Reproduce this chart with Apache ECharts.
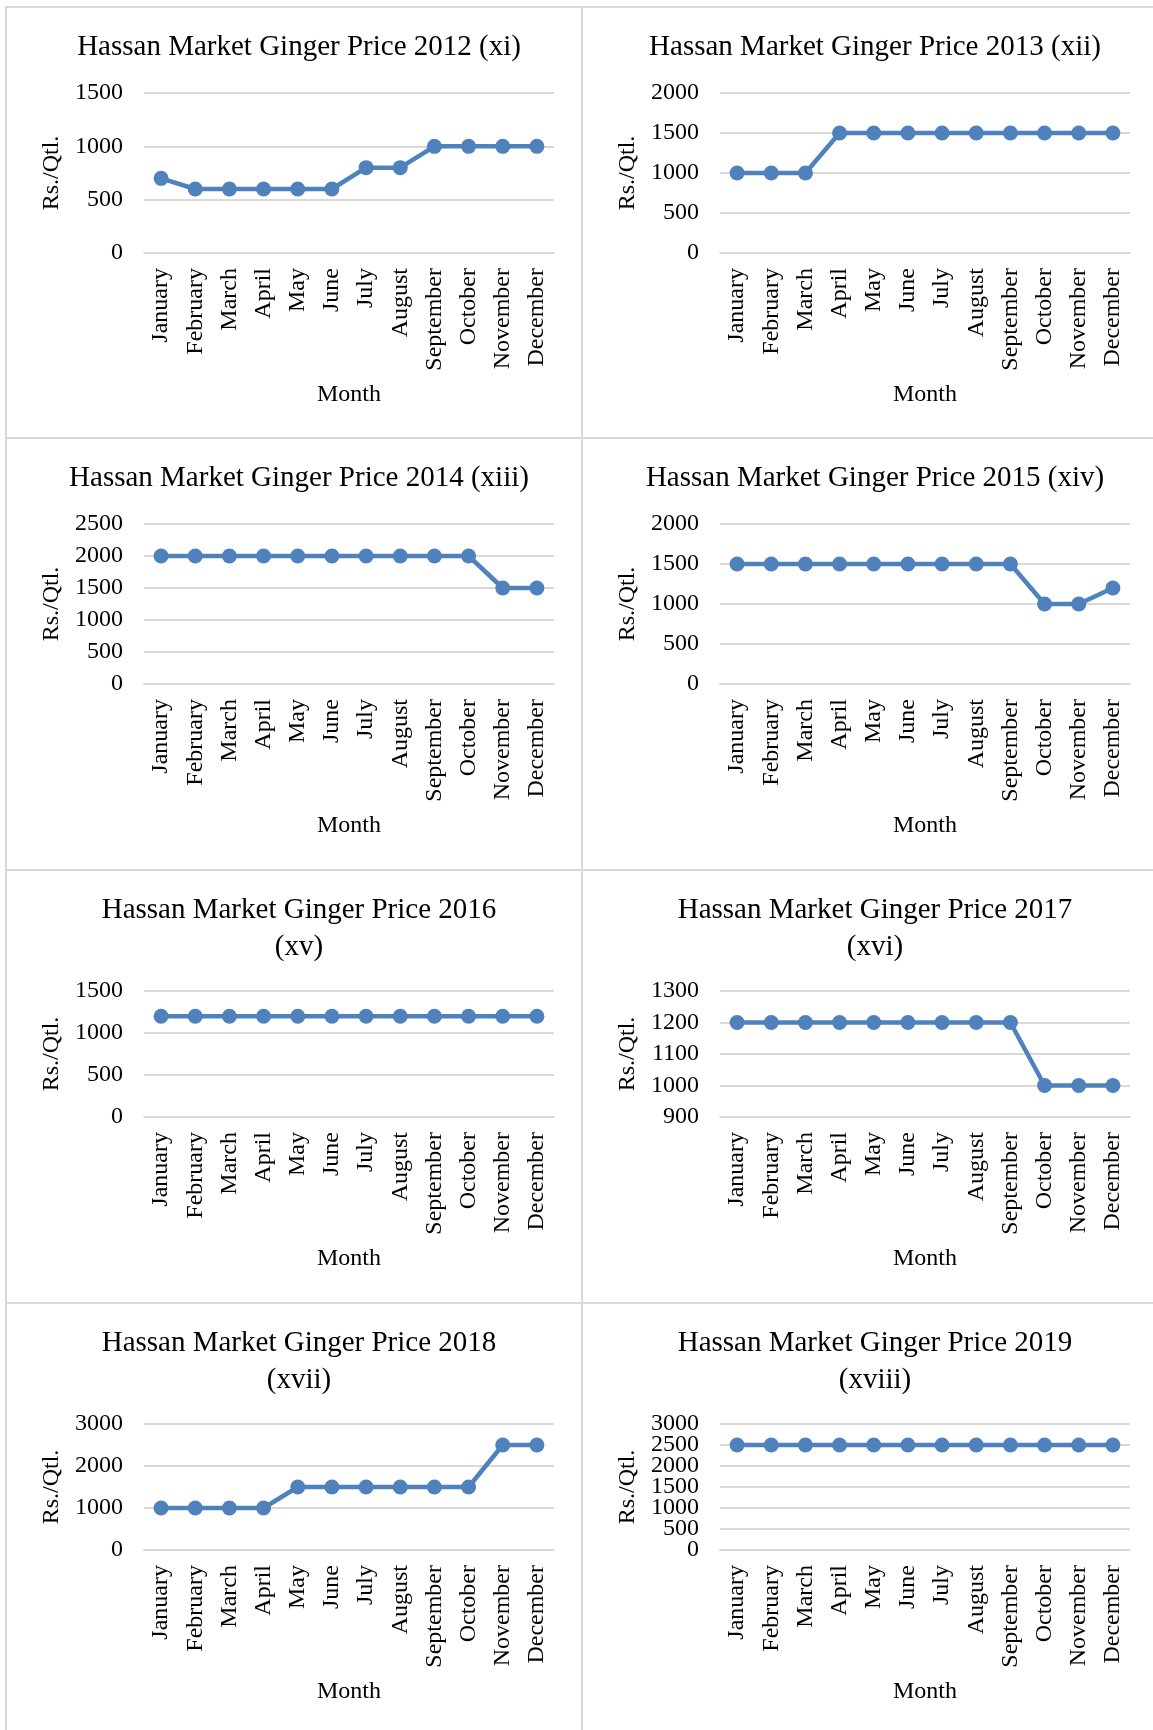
<!DOCTYPE html>
<html>
<head>
<meta charset="utf-8">
<script src="https://cdn.jsdelivr.net/npm/echarts@6/dist/echarts.min.js"></script>
<style>
  body { margin: 0; background: #fff; }
  #page { position: relative; width: 1153px; height: 1730px; overflow: hidden; }
  .cell { position: absolute; box-sizing: border-box; border: 2px solid #d9d9d9; }
</style>
</head>
<body>
<div id="page"></div>
<script>
var months = ['January', 'February', 'March', 'April', 'May', 'June', 'July',
  'August', 'September', 'October', 'November', 'December'];

var titles = [
  'Hassan Market Ginger Price 2012 (xi)',
  'Hassan Market Ginger Price 2013 (xii)',
  'Hassan Market Ginger Price 2014 (xiii)',
  'Hassan Market Ginger Price 2015 (xiv)',
  'Hassan Market Ginger Price 2016\n(xv)',
  'Hassan Market Ginger Price 2017\n(xvi)',
  'Hassan Market Ginger Price 2018\n(xvii)',
  'Hassan Market Ginger Price 2019\n(xviii)'
];

var price2012 = [700, 600, 600, 600, 600, 600, 800, 800, 1000, 1000, 1000, 1000];
var price2013 = [1000, 1000, 1000, 1500, 1500, 1500, 1500, 1500, 1500, 1500, 1500, 1500];
var price2014 = [2000, 2000, 2000, 2000, 2000, 2000, 2000, 2000, 2000, 2000, 1500, 1500];
var price2015 = [1500, 1500, 1500, 1500, 1500, 1500, 1500, 1500, 1500, 1000, 1000, 1200];
var price2016 = [1200, 1200, 1200, 1200, 1200, 1200, 1200, 1200, 1200, 1200, 1200, 1200];
var price2017 = [1200, 1200, 1200, 1200, 1200, 1200, 1200, 1200, 1200, 1000, 1000, 1000];
var price2018 = [1000, 1000, 1000, 1000, 1500, 1500, 1500, 1500, 1500, 1500, 2500, 2500];
var price2019 = [2500, 2500, 2500, 2500, 2500, 2500, 2500, 2500, 2500, 2500, 2500, 2500];

// y axis range per panel: min, max, interval
var yMin = [0, 0, 0, 0, 0, 900, 0, 0];
var yMax = [1500, 2000, 2500, 2000, 1500, 1300, 3000, 3000];
var yStep = [500, 500, 500, 500, 500, 100, 1000, 500];

var prices = [price2012, price2013, price2014, price2015,
  price2016, price2017, price2018, price2019];

var font = '"Liberation Serif", "Times New Roman", serif';
var colX = [5, 581];
var colW = [578, 574];
var rowY = [6, 437, 869, 1302];
var rowH = [433, 434, 435, 430];

var page = document.getElementById('page');

var labelStyle = { margin: 21, fontFamily: font, fontSize: 24, color: '#000',
  formatter: function (v) { return String(v); } };
var gridLine = { lineStyle: { color: '#d9d9d9', width: 2 } };

prices.forEach(function (data, i) {
  var col = i % 2, row = Math.floor(i / 2);
  var div = document.createElement('div');
  div.className = 'cell';
  div.style.left = colX[col] + 'px';
  div.style.top = rowY[row] + 'px';
  div.style.width = colW[col] + 'px';
  div.style.height = rowH[row] + 'px';
  page.appendChild(div);

  var twoLine = titles[i].indexOf('\n') >= 0;
  var plotTop = twoLine ? 120 : 85;
  var plotH = twoLine ? 126 : 160;
  var nTicks = (yMax[i] - yMin[i]) / yStep[i];
  // labels too crowded: ECharts drops some, so put every other one on a 2nd axis
  var crowded = plotH / nTicks < 26;
  var step = crowded ? yStep[i] * 2 : yStep[i];

  var grids = [{ left: 137, width: 410, top: plotTop, height: plotH }];
  var xAxes = [{
    type: 'category',
    data: months,
    boundaryGap: true,
    name: 'Month',
    nameLocation: 'middle',
    nameGap: 130,
    nameTextStyle: { fontFamily: font, fontSize: 24, color: '#000' },
    axisLine: { lineStyle: { color: '#d9d9d9', width: 2 } },
    axisTick: { show: false },
    axisLabel: { rotate: 90, interval: 0, margin: 15, fontFamily: font, fontSize: 24, color: '#000' }
  }];
  var yAxes = [{
    type: 'value',
    min: yMin[i],
    max: yMax[i],
    interval: step,
    name: 'Rs./Qtl.',
    nameLocation: 'middle',
    nameGap: 74,
    nameTextStyle: { fontFamily: font, fontSize: 24, color: '#000' },
    axisLine: { show: false },
    axisTick: { show: false },
    axisLabel: labelStyle,
    splitLine: gridLine
  }];

  if (crowded) {
    var px = plotH / nTicks;
    grids.push({ left: 137, width: 410, top: plotTop + px, height: plotH - 2 * px });
    xAxes.push({ type: 'category', data: months, gridIndex: 1, show: false });
    yAxes.push({
      type: 'value',
      gridIndex: 1,
      min: yMin[i] + yStep[i],
      max: yMax[i] - yStep[i],
      interval: step,
      axisLine: { show: false },
      axisTick: { show: false },
      axisLabel: labelStyle,
      splitLine: gridLine
    });
  }

  var chart = echarts.init(div);
  chart.setOption({
    animation: false,
    title: {
      text: titles[i],
      left: 287,
      top: 16,
      textAlign: 'center',
      textStyle: { fontFamily: font, fontSize: 29, fontWeight: 'normal', color: '#000', lineHeight: 37 }
    },
    grid: grids,
    xAxis: xAxes,
    yAxis: yAxes,
    series: [{
      type: 'line',
      data: data,
      symbol: 'circle',
      symbolSize: 15,
      lineStyle: { color: '#4f81bd', width: 4.5 },
      itemStyle: { color: '#4f81bd' },
      z: 3
    }]
  });
});
</script>
</body>
</html>
